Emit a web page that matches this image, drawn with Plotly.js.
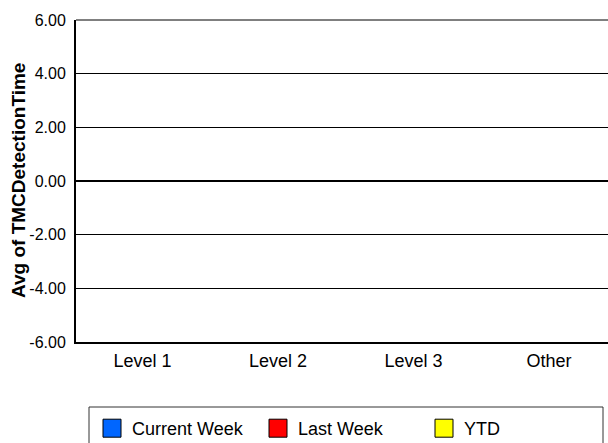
<!DOCTYPE html>
<html>
<head>
<meta charset="utf-8">
<script src="https://cdn.plot.ly/plotly-3.0.1.min.js"></script>
<style>
html,body{margin:0;padding:0;background:#fff;overflow:hidden;}
#chart{width:608px;height:443px;}
</style>
</head>
<body>
<div id="chart"></div>
<script>
// ---- data ----
var categories = ['Level 1', 'Level 2', 'Level 3', 'Other'];
var currentWeek = [0, 0, 0, 0];
var lastWeek = [0, 0, 0, 0];
var ytd = [0, 0, 0, 0];
var seriesNames = ['Current Week', 'Last Week', 'YTD'];
var yTickVals = [-6, -4, -2, 0, 2, 4, 6];
var yTickText = ['-6.00', '-4.00', '-2.00', '0.00', '2.00', '4.00', '6.00'];
var yTitle = 'Avg of TMCDetectionTime';

var FONT = 'Liberation Sans, Arial, Helvetica, sans-serif';
var colors = ['#0066FF', '#FF0000', '#FFFF00'];
var seriesData = [currentWeek, lastWeek, ytd];

// plot area: left 76, top 20, right 608, bottom 342
var L = 76, T = 20, W = 532, H = 322;
function px(x) { return (x - L) / W; }
function py(y) { return 1 - (y - T) / H; }

var traces = seriesData.map(function (vals, i) {
  return {
    type: 'bar',
    name: seriesNames[i],
    x: categories,
    y: vals,
    marker: { color: colors[i], line: { color: '#000000', width: 1 } },
    hoverinfo: 'skip'
  };
});

var layout = {
  width: 608,
  height: 443,
  margin: { l: L, r: 0, t: T, b: 443 - T - H, pad: 0, autoexpand: false },
  paper_bgcolor: '#ffffff',
  plot_bgcolor: '#ffffff',
  font: { family: FONT, size: 16, color: '#000000' },
  showlegend: true,
  barmode: 'group',
  xaxis: {
    type: 'category',
    categoryorder: 'array',
    categoryarray: categories,
    range: [-0.4908, 3.4354],
    showgrid: false,
    showline: true,
    linecolor: '#000000',
    linewidth: 2,
    ticks: '',
    ticklabelstandoff: 1,
    tickfont: { family: FONT, size: 18, color: '#000000' },
    zeroline: false,
    automargin: false,
    fixedrange: true
  },
  yaxis: {
    range: [-6, 6],
    tickmode: 'array',
    tickvals: yTickVals,
    ticktext: yTickText,
    showgrid: true,
    gridcolor: '#000000',
    gridwidth: 1,
    zeroline: true,
    zerolinecolor: '#000000',
    zerolinewidth: 2,
    showline: true,
    linecolor: '#000000',
    linewidth: 2,
    ticks: '',
    ticklabelstandoff: 5,
    tickfont: { family: FONT, size: 16, color: '#000000' },
    automargin: false,
    fixedrange: true
  },
  legend: {
    orientation: 'h',
    x: px(92),
    xanchor: 'left',
    y: py(410),
    yanchor: 'top',
    entrywidth: 121,
    entrywidthmode: 'pixels',
    bgcolor: 'rgba(0,0,0,0)',
    borderwidth: 0,
    font: { family: FONT, size: 18, color: '#000000' },
    traceorder: 'normal'
  },
  annotations: [{
    text: '<b>' + yTitle + '</b>',
    xref: 'paper', yref: 'paper',
    x: px(18), y: py(181),
    xanchor: 'center', yanchor: 'middle',
    textangle: -90,
    showarrow: false,
    font: { family: FONT, size: 19, color: '#000000' }
  }],
  shapes: [
    { type: 'line', xref: 'paper', yref: 'paper', x0: 0, x1: 1, y0: 1, y1: 1,
      line: { color: '#000000', width: 1 } },
    { type: 'rect', xref: 'paper', yref: 'paper',
      x0: px(89), x1: px(603), y0: py(470), y1: py(407),
      line: { color: '#333333', width: 1 }, fillcolor: 'rgba(0,0,0,0)', layer: 'below' }
  ]
};

Plotly.newPlot('chart', traces, layout, { staticPlot: true, displayModeBar: false }).then(function () {
  var pts = document.querySelectorAll('.legend .legendpoints path');
  pts.forEach(function (p) { p.setAttribute('d', 'M9,9H-9V-9H9Z'); });
});
</script>
</body>
</html>
